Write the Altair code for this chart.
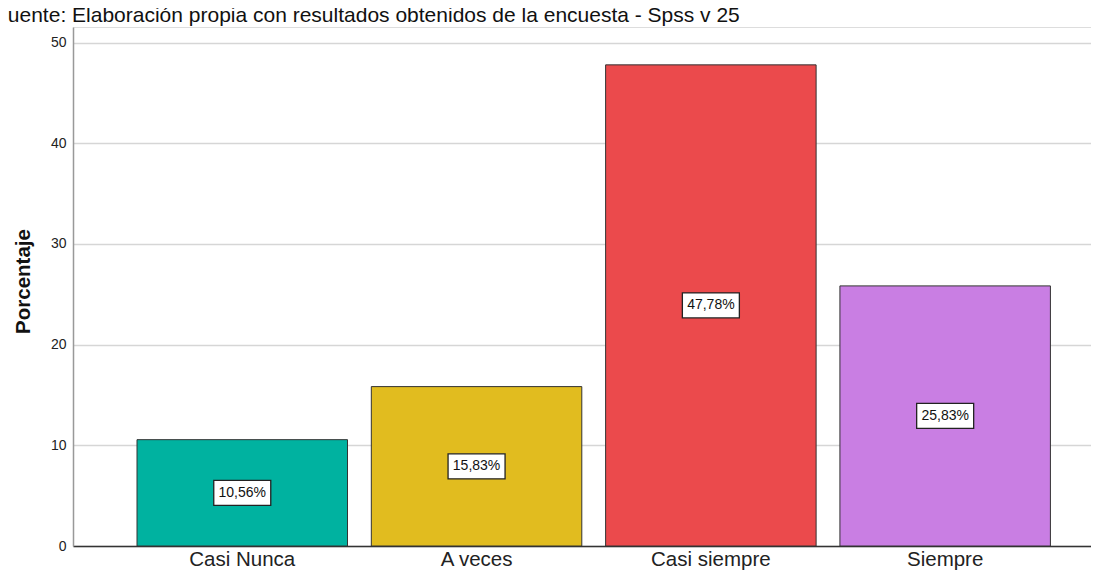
import altair as alt
import pandas as pd

categories = ["Casi Nunca", "A veces", "Casi siempre", "Siempre"]
values = [10.56, 15.83, 47.78, 25.83]
colors = ["#00b2a0", "#e1bc1f", "#eb4a4c", "#c97ee3"]
y_ticks = [0, 10, 20, 30, 40, 50]
title_text = "Fuente: Elaboración propia con resultados obtenidos de la encuesta - Spss v 25"

df = pd.DataFrame({
    "cat": categories,
    "val": values,
    "label": [f"{v:.2f}".replace(".", ",") + "%" for v in values],
})

x_enc = alt.X(
    "cat:N",
    sort=categories,
    scale=alt.Scale(paddingInner=0.1016, paddingOuter=0.2232, align=0.612),
    axis=alt.Axis(
        title=None, labelAngle=0, labelFontSize=20.5, labelFont="Liberation Sans",
        labelColor="#222222", labelPadding=3, ticks=False,
        domainColor="#333333", domainWidth=1.5, grid=False,
    ),
)

y_scale = alt.Scale(domain=[0, 51.54], nice=False)

bars = alt.Chart(df).mark_bar(stroke="#333333", strokeWidth=1).encode(
    x=x_enc,
    y=alt.Y(
        "val:Q",
        scale=y_scale,
        axis=alt.Axis(
            values=y_ticks, title="Porcentaje", titleFontSize=20.5, titleFontWeight="bold",
            titleFont="Liberation Sans", titleColor="#111111",
            titleX=-50, titleY=254, titleAlign="center", titleBaseline="middle", titleAngle=-90,
            labelFontSize=14, labelFont="Liberation Sans", labelColor="#222222", labelPadding=7,
            ticks=False, grid=True, gridColor="#d6d6d6", gridWidth=1.5,
            domainColor="#999999", domainWidth=1.5,
        ),
    ),
    color=alt.Color("cat:N", scale=alt.Scale(domain=categories, range=colors), legend=None),
)

box_shape = "M-1,-0.4386L1,-0.4386L1,0.4386L-1,0.4386Z"
boxes = alt.Chart(df).transform_calculate(mid="datum.val / 2").mark_point(
    shape=box_shape, size=3249, filled=True, fill="white", stroke="#222222",
    strokeWidth=1.3, opacity=1,
).encode(
    x=alt.X("cat:N", sort=categories),
    y=alt.Y("mid:Q", scale=y_scale),
)

labels = alt.Chart(df).transform_calculate(mid="datum.val / 2").mark_text(
    font="Liberation Sans", fontSize=14, color="#111111", baseline="middle", align="center",
).encode(
    x=alt.X("cat:N", sort=categories),
    y=alt.Y("mid:Q", scale=y_scale),
    text="label:N",
)

title = alt.Chart(pd.DataFrame({"t": [title_text]})).mark_text(
    font="Liberation Sans", fontSize=21, color="#111111", align="left", baseline="alphabetic",
).encode(
    x=alt.value(-78), y=alt.value(-5), text="t:N",
)

chart = alt.layer(bars, boxes, labels, title).properties(
    width=1018, height=519,
    autosize=alt.AutoSizeParams(type="none"),
    padding={"left": 65, "top": 19, "right": 0, "bottom": 24},
).configure_view(stroke=None).configure(background="white")

chart.save("out.html", embed_options={"renderer": "svg", "actions": False})
